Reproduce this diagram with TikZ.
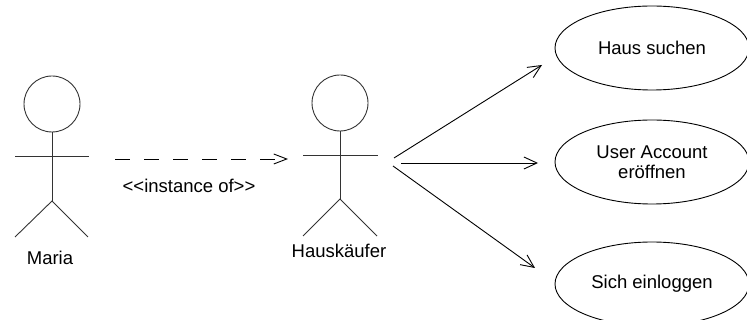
\documentclass[tikz,border=0pt]{standalone}
\usepackage{fontspec}
\setmainfont{Liberation Sans}
\usetikzlibrary{arrows.meta,shapes.geometric}
\begin{document}
\begin{tikzpicture}[x=1pt,y=-1pt,
  every node/.style={font=\fontsize{18.5}{20.5}\selectfont},
  limb/.style={draw=black!80, line width=0.9pt},
  head/.style={circle, draw=black!80, line width=0.9pt, minimum size=56pt, inner sep=0pt},
  usecase/.style={ellipse, draw, line width=0.9pt, minimum width=194pt, minimum height=84pt, inner sep=0pt, align=center},
  assoc/.style={draw, line width=0.9pt, -{Straight Barb[length=13pt,width=12pt,line width=0.9pt]}},
  inst/.style={draw, line width=0.9pt, dash pattern=on 15pt off 14pt, -{Straight Barb[length=13pt,width=10pt,line width=0.9pt]}},
  lbl/.style={inner sep=0pt}]
\useasboundingbox (0,0) rectangle (747,320);
\clip (0,0) rectangle (747,320);
% Maria
\node[head] (mhead) at (52,104) {};
\coordinate (mhip) at (52,201);
\coordinate (marmL) at (15,156);
\coordinate (marmR) at (89,156);
\coordinate (mlegL) at (15,237);
\coordinate (mlegR) at (88,237);
\draw[limb] (mhead.south) -- (mhip);
\draw[limb] (marmL) -- (marmR);
\draw[limb] (mlegL) -- (mhip) -- (mlegR);
\node[lbl] (maria) at (50,258) {Maria};
% Hauskaeufer
\node[head] (hhead) at (340,103) {};
\coordinate (hhip) at (340,199);
\coordinate (harmL) at (303,155);
\coordinate (harmR) at (378,155);
\coordinate (hlegL) at (303,236);
\coordinate (hlegR) at (377,236);
\draw[limb] (hhead.south) -- (hhip);
\draw[limb] (harmL) -- (harmR);
\draw[limb] (hlegL) -- (hhip) -- (hlegR);
\node[lbl] (hk) at (339,251) {Hauskäufer};
% instance of
\coordinate (iS) at (115,159);
\coordinate (iE) at (288,159);
\draw[inst] (iS) -- (iE);
\node[lbl] (instlbl) at (189,186) {<{}<instance of>{}>};
% use cases
\node[usecase] (uc1) at (652,48) {Haus suchen};
\node[usecase] (uc2) at (652,162) {User Account\\eröffnen};
\node[usecase] (uc3) at (652,284) {Sich einloggen};
\coordinate (a1) at (394,158);
\coordinate (a2) at (401,163);
\coordinate (a3) at (393,166);
\coordinate (e1) at (542,65);
\coordinate (e2) at (538,163);
\coordinate (e3) at (535,268);
\draw[assoc] (a1) -- (e1);
\draw[assoc] (a2) -- (e2);
\draw[assoc] (a3) -- (e3);
\end{tikzpicture}
\end{document}
